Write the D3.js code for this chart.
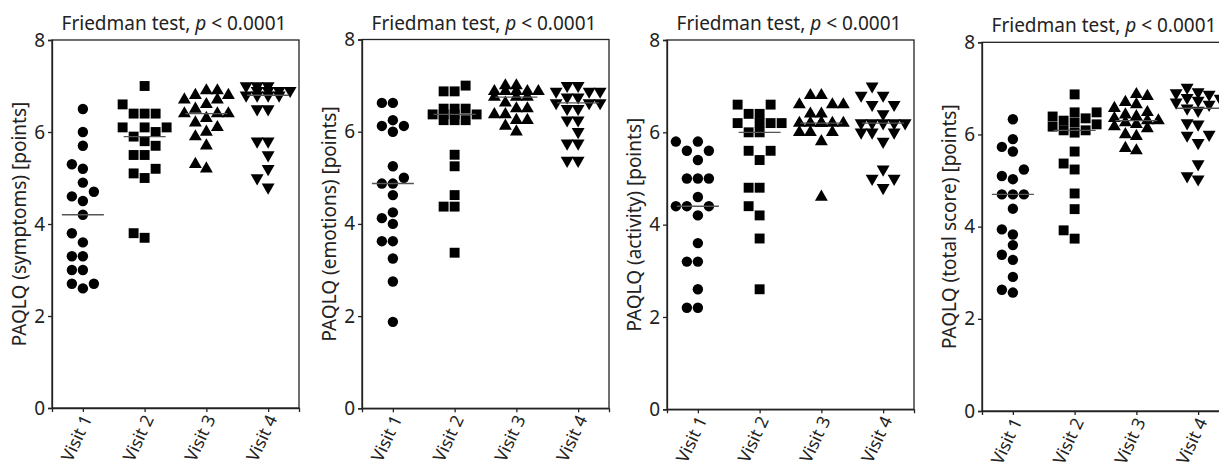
<!DOCTYPE html>
<html>
<head>
<meta charset="utf-8">
<script src="https://cdn.jsdelivr.net/npm/d3@7"></script>
<style>
  body { margin: 0; background: #fff; }
  svg { font-family: "Noto Sans", "Open Sans", sans-serif; }
</style>
</head>
<body>
<div id="chart"></div>
<script>
// categories and ticks
const visits = ["Visit 1", "Visit 2", "Visit 3", "Visit 4"];
const yTicks = [0, 2, 4, 6, 8];
const yLabels = ["PAQLQ (symptoms) [points]", "PAQLQ (emotions) [points]",
    "PAQLQ (activity) [points]", "PAQLQ (total score) [points]"];
const pValue = "< 0.0001";

// PAQLQ scores per visit
const symptoms = [
    [6.5, 6.0, 5.7, 5.3, 5.2, 4.9, 4.7, 4.6, 4.5, 4.2, 3.8, 3.6, 3.3, 3.3, 3.0, 3.0, 2.7, 2.7, 2.6],
    [7.0, 6.6, 6.4, 6.4, 6.4, 6.1, 6.1, 6.1, 6.0, 5.9, 5.8, 5.7, 5.5, 5.5, 5.2, 5.1, 5.0, 3.8, 3.7],
    [6.9, 6.9, 6.8, 6.8, 6.7, 6.7, 6.6, 6.5, 6.4, 6.4, 6.4, 6.3, 6.2, 6.1, 6.0, 5.9, 5.7, 5.3, 5.2],
    [7.0, 7.0, 7.0, 6.9, 6.9, 6.9, 6.9, 6.8, 6.8, 6.8, 6.8, 6.5, 6.5, 5.8, 5.8, 5.5, 5.2, 5.0, 4.8]
];
const emotions = [
    [6.625, 6.625, 6.25, 6.125, 6.125, 6.0, 5.25, 5.0, 4.875, 4.875, 4.625, 4.25, 4.125, 4.0, 3.625, 3.625, 3.25, 2.75, 1.875],
    [7.0, 6.875, 6.875, 6.5, 6.5, 6.5, 6.375, 6.375, 6.375, 6.375, 6.25, 6.25, 6.25, 5.5, 5.25, 4.625, 4.375, 4.375, 3.375],
    [7.0, 7.0, 6.875, 6.875, 6.875, 6.875, 6.875, 6.75, 6.75, 6.75, 6.625, 6.5, 6.5, 6.375, 6.375, 6.25, 6.25, 6.125, 6.0],
    [7.0, 7.0, 6.875, 6.875, 6.875, 6.75, 6.75, 6.625, 6.625, 6.625, 6.5, 6.5, 6.25, 6.25, 6.0, 5.75, 5.75, 5.375, 5.375]
];
const activity = [
    [5.8, 5.8, 5.6, 5.6, 5.4, 5.0, 5.0, 5.0, 4.6, 4.4, 4.4, 4.4, 4.2, 3.6, 3.2, 3.2, 2.6, 2.2, 2.2],
    [6.6, 6.6, 6.4, 6.4, 6.2, 6.2, 6.2, 6.2, 6.0, 6.0, 5.6, 5.6, 5.4, 4.8, 4.8, 4.4, 4.2, 3.7, 2.6],
    [6.8, 6.8, 6.6, 6.6, 6.6, 6.4, 6.4, 6.2, 6.2, 6.2, 6.2, 6.2, 6.2, 6.2, 6.0, 6.0, 6.0, 5.8, 4.6],
    [7.0, 6.8, 6.8, 6.6, 6.6, 6.4, 6.2, 6.2, 6.2, 6.2, 6.2, 6.0, 6.0, 6.0, 5.8, 5.2, 5.0, 5.0, 4.8]
];
const totalScore = [
    [6.33, 5.9, 5.73, 5.63, 5.24, 5.1, 5.03, 4.7, 4.7, 4.7, 4.39, 3.94, 3.83, 3.6, 3.39, 3.28, 2.91, 2.63, 2.57],
    [6.87, 6.48, 6.48, 6.39, 6.35, 6.3, 6.26, 6.22, 6.17, 6.09, 6.09, 6.04, 5.63, 5.37, 5.24, 4.72, 4.38, 3.92, 3.74],
    [6.87, 6.83, 6.7, 6.65, 6.57, 6.48, 6.43, 6.39, 6.35, 6.3, 6.3, 6.26, 6.22, 6.17, 6.13, 6.0, 5.96, 5.7, 5.65],
    [7.02, 6.92, 6.9, 6.87, 6.8, 6.78, 6.74, 6.7, 6.65, 6.57, 6.52, 6.25, 6.22, 6.0, 5.98, 5.82, 5.36, 5.1, 5.03]
];

const datasets = [symptoms, emotions, activity, totalScore];

// panel placement on the page
const panelLeft = [52, 362, 667, 982];
const panelTop = [40, 39.5, 40, 42.3];
const panelBottom = [408, 408.3, 409.3, 411];
const panelWidth = 247;

const markerTypes = [d3.symbolCircle, d3.symbolSquare, d3.symbolTriangle, d3.symbolTriangle];
const markerSizes = [85, 98, 72, 72];
const markerRotate = [0, 0, 0, 180];

const svg = d3.select("#chart").append("svg")
    .attr("width", 1219)
    .attr("height", 469);

// simple swarm: spread points sideways in columns so markers don't pile up
function swarm(vals, y, diam, step, maxK){
    let pts = vals.map(v => ({v: v, y: y(v), x: 0}));
    let order = pts.slice().sort((a, b) => b.y - a.y);
    let placed = [];
    let cands = [0];
    for(let k = 1; k <= maxK; k++){
        cands.push(-k * step, k * step);
    }
    for(let p of order){
        let best = null;
        for(let c of cands){
            let free = placed.every(q => Math.hypot(q.x - c, q.y - p.y) >= diam);
            if(free){ best = c; break; }
        }
        if(best === null){
            //no free spot, take the least crowded one
            let bestD = -1;
            for(let c of cands){
                let d = d3.min(placed, q => Math.hypot(q.x - c, q.y - p.y));
                if(d > bestD){ bestD = d; best = c; }
            }
        }
        p.x = best;
        placed.push(p);
    }
    return pts;
}

datasets.forEach(function(data, i){
    let h = panelBottom[i] - panelTop[i];
    let g = svg.append("g")
        .attr("transform", `translate(${panelLeft[i]},${panelTop[i]})`);

    let x = d3.scalePoint().domain(visits).range([0, panelWidth]).padding(0.5);
    let y = d3.scaleLinear().domain([0, 8]).range([h, 0]);

    g.append("rect")
        .attr("width", panelWidth)
        .attr("height", h)
        .attr("fill", "none")
        .attr("stroke", "#222")
        .attr("stroke-width", 1.3);

    let yAxis = g.append("g")
        .call(d3.axisLeft(y).tickValues(yTicks).tickSize(4).tickPadding(3).tickFormat(d3.format("d")));
    yAxis.select(".domain").attr("stroke", "#222").attr("stroke-width", 1.3);
    yAxis.selectAll(".tick line").attr("stroke", "#222").attr("stroke-width", 1.3);
    yAxis.selectAll(".tick text")
        .attr("fill", "#222")
        .style("font-size", "19px")
        .style("font-family", "'Noto Sans', sans-serif");

    let xAxis = g.append("g")
        .attr("transform", `translate(0,${h})`)
        .call(d3.axisBottom(x).tickSize(4).tickFormat(""));
    xAxis.select(".domain").attr("stroke", "#222").attr("stroke-width", 1.3);
    xAxis.selectAll(".tick line").attr("stroke", "#222").attr("stroke-width", 1.3);

    g.selectAll(".xlabel")
        .data(visits)
        .enter().append("text")
        .attr("class", "xlabel")
        .attr("transform", d => `translate(${x(d) + 4},${h + 8}) rotate(-65)`)
        .attr("dy", "0.35em")
        .attr("text-anchor", "end")
        .attr("fill", "#222")
        .style("font-size", "17.5px")
        .text(d => d);

    g.append("text")
        .attr("transform", `translate(-26,${h / 2}) rotate(-90)`)
        .attr("text-anchor", "middle")
        .attr("fill", "#222")
        .style("font-size", "19px")
        .text(yLabels[i]);

    let title = g.append("text")
        .attr("x", 122)
        .attr("y", -10)
        .attr("text-anchor", "middle")
        .attr("fill", "#222")
        .style("font-size", "19px");
    title.append("tspan").text("Friedman test, ");
    title.append("tspan").style("font-style", "italic").text("p");
    title.append("tspan").text(" " + pValue);

    data.forEach(function(vals, j){
        let pts = swarm(vals, y, 10, 11, 2);
        let cx = x(visits[j]);
        g.append("g").selectAll("path")
            .data(pts)
            .enter().append("path")
            .attr("d", d3.symbol().type(markerTypes[j]).size(markerSizes[j]))
            .attr("transform", d => `translate(${cx + d.x},${d.y}) rotate(${markerRotate[j]})`)
            .attr("fill", "#000");

        let med = d3.median(vals);
        g.append("line")
            .attr("x1", cx - 21)
            .attr("x2", cx + 21)
            .attr("y1", y(med))
            .attr("y2", y(med))
            .attr("stroke", "#555")
            .attr("stroke-width", 1.4);
    });
});
</script>
</body>
</html>
